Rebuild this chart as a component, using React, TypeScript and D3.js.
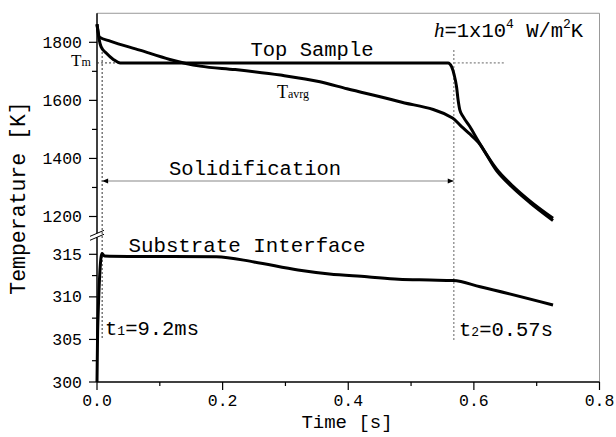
import React from "react";
import * as d3 from "d3";

const timeTop = [0, 0.003, 0.0064, 0.015, 0.026, 0.037, 0.559, 0.5645, 0.5686, 0.5724, 0.5749, 0.5776, 0.5829, 0.5935, 0.607, 0.636, 0.662, 0.689, 0.726];
const tempTop = [1862, 1815, 1785, 1762, 1741, 1729, 1729, 1716, 1688, 1647, 1601, 1567, 1544, 1510, 1460, 1364, 1305, 1254, 1194];

const timeAvg = [0, 0.004, 0.021, 0.068, 0.116, 0.164, 0.22, 0.292, 0.355, 0.398, 0.479, 0.566, 0.578, 0.592, 0.607, 0.636, 0.662, 0.689, 0.726];
const tempAvg = [1862, 1818, 1804, 1773, 1741, 1718, 1706, 1687, 1664, 1640, 1597, 1539, 1515, 1487, 1456, 1358, 1299, 1248, 1186];

const timeSub = [0, 0.001, 0.008, 0.012, 0.05, 0.19, 0.25, 0.32, 0.37, 0.43, 0.48, 0.53, 0.567, 0.61, 0.726];
const tempSub = [300, 306, 315.1, 314.8, 314.75, 314.72, 314.1, 313.15, 312.68, 312.36, 312.06, 311.98, 311.92, 311.19, 309.04];

const xMajor = [0, 0.2, 0.4, 0.6, 0.8];
const xMinor = [0.1, 0.3, 0.5, 0.7];
const yUpperMajor = [1200, 1400, 1600, 1800];
const yUpperMinor = [1300, 1500, 1700];
const yLowerMajor = [300, 305, 310, 315];
const yLowerMinor = [302.5, 307.5, 312.5];

const tMelt = 1729;
const t1 = 0.0082;
const t2 = 0.568;

const MONO = "'Liberation Mono', 'Courier New', monospace";
const SERIF = "'Liberation Serif', 'Times New Roman', serif";

export default function App() {
  const x = d3.scaleLinear().domain([0, 0.8]).range([97, 599.5]);
  const yUp = d3.scaleLinear().domain([1200, 1800]).range([216.5, 42.3]);
  const yLo = d3.scaleLinear().domain([300, 315]).range([382, 254.3]);
  const y = (v: number) => (v >= 1000 ? yUp(v) : yLo(v));

  const line = (ts: number[], vs: number[]) =>
    d3
      .line<number>()
      .x((_, i) => x(ts[i]))
      .y((_, i) => y(vs[i]))
      .curve(d3.curveMonotoneX)(ts) || "";

  const left = x(0);
  const right = x(0.8);
  const top = yUp(1900);
  const bottom = yLo(300);
  const upBreak = yUp(1142);
  const loBreak = yLo(317);

  return (
    <svg width={616} height={437} style={{ position: "absolute", left: 0, top: 0, background: "#fff" }}>
      <defs>
        <marker id="arr" viewBox="0 0 10 10" refX="10" refY="5" markerWidth="9" markerHeight="6" orient="auto-start-reverse" markerUnits="userSpaceOnUse">
          <path d="M0,1 L10,5 L0,9 Z" fill="#000" />
        </marker>
      </defs>
      {/* frame top/right */}
      <line x1={left} x2={right} y1={top} y2={top} stroke="#999" strokeWidth={1} />
      <line x1={right} x2={right} y1={top} y2={bottom} stroke="#999" strokeWidth={1} />

      {/* left axis upper & lower */}
      <line x1={left} x2={left} y1={top} y2={upBreak} stroke="#000" strokeWidth={1.5} />
      <line x1={left} x2={left} y1={loBreak} y2={bottom} stroke="#000" strokeWidth={1.5} />
      {/* break marks */}
      <line x1={left - 7} x2={left + 7} y1={upBreak + 3} y2={upBreak - 3} stroke="#000" strokeWidth={1} />
      <line x1={left - 7} x2={left + 7} y1={loBreak + 3} y2={loBreak - 3} stroke="#000" strokeWidth={1} />

      {/* bottom axis */}
      <line x1={left} x2={right} y1={bottom} y2={bottom} stroke="#000" strokeWidth={1.5} />
      {xMajor.map((v) => (
        <g key={"xM" + v}>
          <line x1={x(v)} x2={x(v)} y1={bottom} y2={bottom + 8} stroke="#000" strokeWidth={1.2} />
          <text x={x(v)} y={406} textAnchor="middle" fontFamily={MONO} fontSize={16.5} fill="#000">{v.toFixed(1)}</text>
        </g>
      ))}
      {xMinor.map((v) => (
        <line key={"xm" + v} x1={x(v)} x2={x(v)} y1={bottom} y2={bottom + 4} stroke="#000" strokeWidth={1.2} />
      ))}

      {yUpperMajor.map((v) => (
        <g key={"yU" + v}>
          <line x1={left - 8} x2={left} y1={yUp(v)} y2={yUp(v)} stroke="#000" strokeWidth={1.2} />
          <text x={82} y={yUp(v) + 5.5} textAnchor="end" fontFamily={MONO} fontSize={16.5} fill="#000">{v}</text>
        </g>
      ))}
      {yUpperMinor.map((v) => (
        <line key={"yu" + v} x1={left - 5} x2={left} y1={yUp(v)} y2={yUp(v)} stroke="#000" strokeWidth={1.2} />
      ))}
      {yLowerMajor.map((v) => (
        <g key={"yL" + v}>
          <line x1={left - 8} x2={left} y1={yLo(v)} y2={yLo(v)} stroke="#000" strokeWidth={1.2} />
          <text x={82} y={yLo(v) + 5.5} textAnchor="end" fontFamily={MONO} fontSize={16.5} fill="#000">{v}</text>
        </g>
      ))}
      {yLowerMinor.map((v) => (
        <line key={"yl" + v} x1={left - 5} x2={left} y1={yLo(v)} y2={yLo(v)} stroke="#000" strokeWidth={1.2} />
      ))}

      {/* axis titles */}
      <text transform="translate(25,198) rotate(-90)" textAnchor="middle" fontFamily={MONO} fontSize={21.5} fill="#000">Temperature [K]</text>
      <text x={347} y={428} textAnchor="middle" fontFamily={MONO} fontSize={19} fill="#000">Time [s]</text>

      {/* guide lines */}
      <line x1={left} x2={x(0.037)} y1={yUp(tMelt)} y2={yUp(tMelt)} stroke="#333" strokeWidth={1} strokeDasharray="2,2" />
      <line x1={x(t2)} x2={505} y1={yUp(tMelt)} y2={yUp(tMelt)} stroke="#666" strokeWidth={1} strokeDasharray="2,2" />
      <line x1={x(t1)} x2={x(t1)} y1={48} y2={340} stroke="#333" strokeWidth={1} strokeDasharray="2,2" />
      <line x1={x(t2)} x2={x(t2)} y1={50} y2={340} stroke="#999" strokeWidth={1.5} strokeDasharray="2,2" />

      {/* solidification arrow */}
      <line x1={x(t1)} x2={x(t2)} y1={181} y2={181} stroke="#888" strokeWidth={1.2} markerStart="url(#arr)" markerEnd="url(#arr)" />

      {/* curves */}
      <path d={line(timeAvg, tempAvg)} fill="none" stroke="#000" strokeWidth={3} strokeLinejoin="round" />
      <path d={line(timeTop, tempTop)} fill="none" stroke="#000" strokeWidth={3} strokeLinejoin="round" />
      <path d={line(timeSub, tempSub)} fill="none" stroke="#000" strokeWidth={3} strokeLinejoin="round" />

      {/* annotations */}
      <text x={312} y={56} textAnchor="middle" fontFamily={MONO} fontSize={20.5} fill="#000">Top Sample</text>
      <text x={255} y={175} textAnchor="middle" fontFamily={MONO} fontSize={20.5} fill="#000">Solidification</text>
      <text x={247} y={251.5} textAnchor="middle" fontFamily={MONO} fontSize={20.8} fill="#000">Substrate Interface</text>
      <text x={105} y={335} fontFamily={MONO} fontSize={20.5} fill="#000">t<tspan fontSize={13}>1</tspan>=9.2ms</text>
      <text x={459} y={336} fontFamily={MONO} fontSize={20.5} fill="#000">t<tspan fontSize={13}>2</tspan>=0.57s</text>
      <text x={71} y={66} fontFamily={SERIF} fontSize={17} fill="#000">T<tspan fontSize={12}>m</tspan></text>
      <text x={277} y={98} fontFamily={SERIF} fontSize={18} fill="#000">T<tspan fontSize={12}>avrg</tspan></text>
      <text x={434} y={37} fontFamily={MONO} fontSize={20.5} fill="#000">
        <tspan fontStyle="italic" fontFamily={SERIF} fontSize={21}>h</tspan>=1x10<tspan fontSize={13} dy={-9}>4</tspan><tspan dy={9}> W/m</tspan><tspan fontSize={13} dy={-9}>2</tspan><tspan dy={9}>K</tspan>
      </text>
    </svg>
  );
}
